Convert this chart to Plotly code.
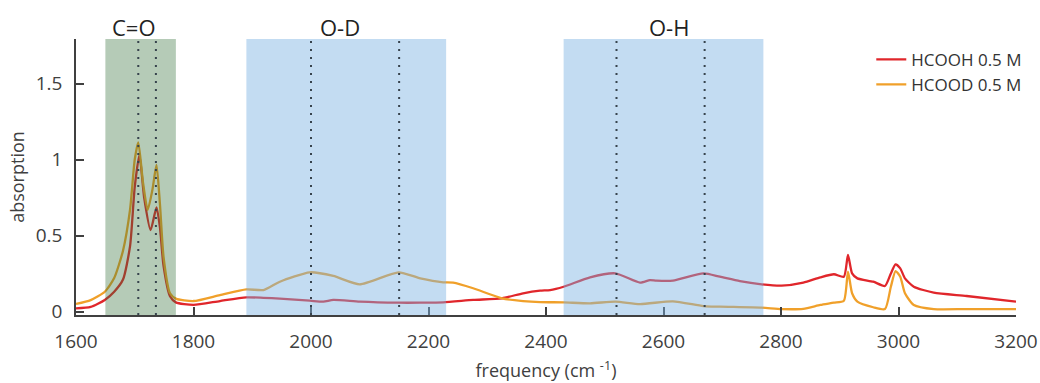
import plotly.graph_objects as go

# ---- data ----
freq_hcooh = [1600, 1625, 1649, 1665, 1680, 1692, 1700, 1708, 1716, 1727, 1737, 1743, 1749, 1760, 1770,
              1800, 1845, 1890, 1919, 1947, 1998, 2021, 2038, 2083, 2149, 2186, 2225, 2276, 2325, 2361,
              2390, 2407, 2430, 2475, 2518, 2560, 2577, 2588, 2616, 2668, 2696, 2730, 2767, 2801, 2838,
              2867, 2890, 2907, 2914, 2921, 2930, 2957, 2977, 2987, 2995, 3003, 3011, 3026, 3060, 3116, 3200]
abs_hcooh = [0.020, 0.030, 0.076, 0.13, 0.21, 0.43, 0.82, 1.03, 0.75, 0.536, 0.685, 0.55, 0.30, 0.10, 0.06,
             0.043, 0.069, 0.093, 0.090, 0.085, 0.071, 0.065, 0.076, 0.065, 0.058, 0.058, 0.060, 0.076, 0.087, 0.120,
             0.137, 0.141, 0.163, 0.225, 0.251, 0.190, 0.207, 0.203, 0.203, 0.251, 0.229, 0.200, 0.179, 0.170, 0.190,
             0.225, 0.245, 0.229, 0.372, 0.251, 0.218, 0.196, 0.168, 0.250, 0.310, 0.284, 0.218, 0.163, 0.124, 0.102, 0.065]

freq_hcood = [1600, 1625, 1649, 1665, 1680, 1692, 1700, 1706, 1714, 1722, 1730, 1737, 1743, 1749, 1760, 1770,
              1800, 1845, 1890, 1919, 1947, 1998, 2038, 2083, 2149, 2186, 2225, 2242, 2276, 2325, 2361,
              2390, 2430, 2475, 2518, 2560, 2616, 2668, 2696, 2767, 2801, 2838, 2867, 2890, 2907, 2914,
              2921, 2930, 2957, 2977, 2987, 2995, 3003, 3011, 3026, 3060, 3116, 3200]
abs_hcood = [0.050, 0.075, 0.13, 0.22, 0.40, 0.67, 1.00, 1.113, 0.85, 0.668, 0.80, 0.964, 0.70, 0.36, 0.12, 0.085,
             0.069, 0.108, 0.146, 0.141, 0.196, 0.258, 0.234, 0.179, 0.258, 0.218, 0.192, 0.190, 0.153, 0.087, 0.069,
             0.062, 0.060, 0.054, 0.065, 0.049, 0.067, 0.036, 0.032, 0.025, 0.016, 0.018, 0.043, 0.058, 0.071, 0.262,
             0.120, 0.065, 0.028, 0.016, 0.163, 0.266, 0.229, 0.120, 0.043, 0.016, 0.016, 0.015]

series_names = ["HCOOH 0.5 M", "HCOOD 0.5 M"]
region_labels = ["C=O", "O-D", "O-H"]
region_start = [1650, 1890, 2430]
region_end = [1770, 2230, 2770]
region_label_x = [1698, 2050, 2610]
band_lines = [1706, 1736, 2000, 2150, 2520, 2670]
x_ticks = [1600, 1800, 2000, 2200, 2400, 2600, 2800, 3000, 3200]
y_ticks = [0, 0.5, 1, 1.5]
y_tick_text = ["0", "0.5", "1", "1.5"]

FONT = "Open Sans"
AX = "#404040"
RED = "#e0262b"
ORANGE = "#f0a02a"
region_colors = ["rgba(50,110,55,0.36)", "rgba(122,177,226,0.45)", "rgba(122,177,226,0.45)"]

fig = go.Figure()
fig.add_trace(go.Scatter(x=freq_hcooh, y=abs_hcooh, mode="lines", name=series_names[0],
                         line=dict(color=RED, width=2.3, shape="spline", smoothing=0.6)))
fig.add_trace(go.Scatter(x=freq_hcood, y=abs_hcood, mode="lines", name=series_names[1],
                         line=dict(color=ORANGE, width=2.3, shape="spline", smoothing=0.6)))

shapes = []
for s, e, c in zip(region_start, region_end, region_colors):
    shapes.append(dict(type="rect", xref="x", yref="paper", x0=s, x1=e, y0=0, y1=1,
                       fillcolor=c, line=dict(width=0), layer="above"))
for b in band_lines:
    shapes.append(dict(type="line", xref="x", yref="paper", x0=b, x1=b, y0=0, y1=1,
                       line=dict(color="#37434d", width=2, dash="2px,6px"), layer="above"))

annotations = []
for lab, lx in zip(region_labels, region_label_x):
    annotations.append(dict(text=lab, x=lx, xref="x", y=1.0, yref="paper",
                            yanchor="bottom", showarrow=False, yshift=-5,
                            font=dict(family=FONT, size=22, color="#222222")))

fig.update_layout(
    width=1040, height=383,
    margin=dict(l=76, r=24, t=39, b=68, autoexpand=False),
    paper_bgcolor="white", plot_bgcolor="white",
    font=dict(family=FONT, color=AX),
    shapes=shapes, annotations=annotations,
    legend=dict(x=1.012, xanchor="right", y=0.99, yanchor="top", bgcolor="rgba(0,0,0,0)",
                font=dict(family=FONT, size=17, color="#333333"), tracegroupgap=0),
    xaxis=dict(range=[1600, 3200], tickvals=x_ticks, ticks="inside", ticklen=8, tickwidth=1.5,
               tickcolor=AX, showline=True, linecolor=AX, linewidth=1.5, showgrid=False, zeroline=False,
               tickfont=dict(family=FONT, size=19, color=AX), ticklabelstandoff=8,
               title=dict(text="frequency (cm <sup>-1</sup>)", font=dict(family=FONT, size=18, color=AX),
                          standoff=12)),
    yaxis=dict(range=[-0.023, 1.793], tickvals=y_ticks, ticktext=y_tick_text, ticks="inside", ticklen=8,
               tickwidth=1.5, tickcolor=AX, showline=True, linecolor=AX, linewidth=1.5, showgrid=False,
               zeroline=False, tickfont=dict(family=FONT, size=19, color=AX), ticklabelstandoff=8,
               title=dict(text="absorption", font=dict(family=FONT, size=18, color=AX), standoff=6)),
)

fig.write_html("out.html")
